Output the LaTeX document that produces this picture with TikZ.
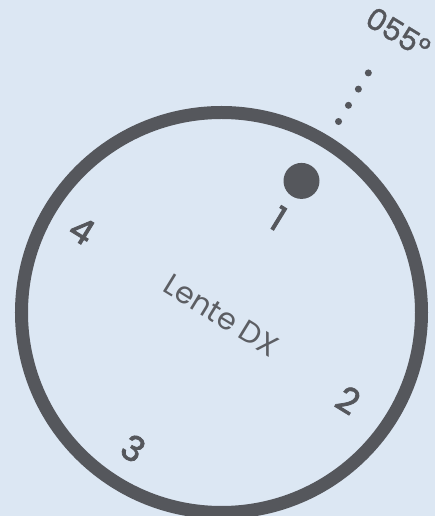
\documentclass[tikz,border=0pt]{standalone}
\usepackage{fontspec}
\setmainfont{Poppins}
\newfontfamily\digitfont{Poppins}[FakeBold=2.2]
\newfontfamily\bearingfont{Poppins}[FakeBold=1.2]
\definecolor{lensbg}{HTML}{DCE7F3}
\definecolor{lensring}{HTML}{55575C}
\definecolor{lenstext}{HTML}{5C5E63}

\begin{document}
\begin{tikzpicture}[
      x=1pt,y=1pt,
      inner sep=0pt,
      ring/.style={circle,draw=lensring,line width=13pt,minimum size=400pt},
      notch/.style={circle,fill=lensring,minimum size=36pt},
      digit/.style={text=lensring,font=\digitfont\fontsize{35}{35}\selectfont,rotate=-31.5},
      dots/.style={draw=lensring,line width=7pt,line cap=round,dash pattern=on 0pt off 19pt}
    ]
    \fill[lensbg] (-221.5,-203.5) rectangle (213.5,312.5);
    \clip (-221.5,-203.5) rectangle (213.5,312.5);
    \node (lens) [ring] at (0,0) {};
    \node (notch) [notch] at (58.7:154) {};
    \coordinate (d0) at (58.5:224);
    \coordinate (d1) at (58.5:300);
    \draw[dots] (d0) -- (d1);
    \node (bearing) [text=lensring,font=\bearingfont\fontsize{30}{30}\selectfont,rotate=-31.5] at (57.7:331) {055°};
    \node (name) [text=lenstext,font=\fontsize{30}{30}\selectfont,rotate=-31.5] at (0,-3) {Lente DX};
    \node (n1) [digit] at (58.9:110) {1};
    \node (n2) [digit] at (-34.6:154) {2};
    \node (n3) [digit] at (-123:162) {3};
    \node (n4) [digit] at (149.5:162) {4};
  \end{tikzpicture}
\end{document}
